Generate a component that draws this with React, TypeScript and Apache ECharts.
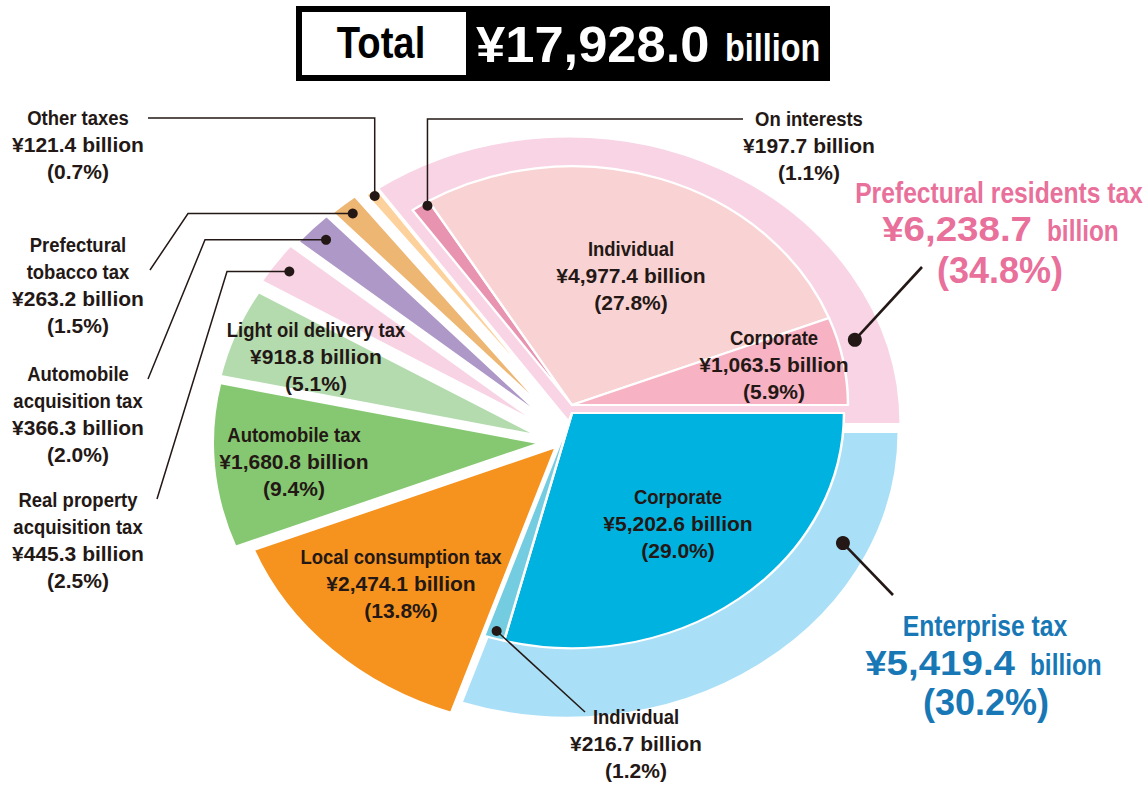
import React, { useEffect, useRef } from "react";
import * as echarts from "echarts";

// ---------------- data ----------------
const categories = [
  "Enterprise tax: Corporate",
  "Enterprise tax: Individual",
  "Local consumption tax",
  "Automobile tax",
  "Light oil delivery tax",
  "Real property acquisition tax",
  "Automobile acquisition tax",
  "Prefectural tobacco tax",
  "Other taxes",
  "Prefectural residents tax: On interests",
  "Prefectural residents tax: Individual",
  "Prefectural residents tax: Corporate",
];
const values = [5202.6, 216.7, 2474.1, 1680.8, 918.8, 445.3, 366.3, 263.2, 121.4, 197.7, 4977.4, 1063.5];
const shares = [29.0, 1.2, 13.8, 9.4, 5.1, 2.5, 2.0, 1.5, 0.7, 1.1, 27.8, 5.9];
const nameLines = [
  ["Corporate"],
  ["Individual"],
  ["Local consumption tax"],
  ["Automobile tax"],
  ["Light oil delivery tax"],
  ["Real property", "acquisition tax"],
  ["Automobile", "acquisition tax"],
  ["Prefectural", "tobacco tax"],
  ["Other taxes"],
  ["On interests"],
  ["Individual"],
  ["Corporate"],
];
const colors = [
  "#00B2DF", "#74CCE0", "#F6921E", "#86C872", "#B3DBAE", "#F8D3E4",
  "#AE98C7", "#EEB673", "#FDD19C", "#E894B0", "#F9D3D3", "#F7B2C3",
];
const groupNames = ["Enterprise tax", "Prefectural residents tax"];
const groupMembers = [[0, 1], [9, 10, 11]];
const groupValues = [5419.4, 6238.7];
const groupShares = [30.2, 34.8];
const groupColors = ["#AADFF8", "#F8D4E5"];
const groupTextColors = ["#1878B6", "#E8709B"];
const totalValue = 17928.0;

// ---------------- layout ----------------
const W = 1148;
const H = 785;
const S = 0.865; // vertical squash of the pie
const FONT = "'Liberation Sans', Arial, Helvetica, sans-serif";
const INK = "#231815";

type Layer = { cx: number; cy: number; r: number; bw: number };
const ringLayers: Layer[] = [
  { cx: 568, cy: 431.7, r: 331, bw: 3 },
  { cx: 568, cy: 424.3, r: 333, bw: 3 },
];
const innerLayers: Layer[] = [
  { cx: 572, cy: 413, r: 272, bw: 2.5 },
  { cx: 572, cy: 405, r: 276, bw: 2.5 },
];
const sliceLayers: Record<number, Layer> = {
  2: { cx: 557, cy: 446, r: 327, bw: 4 },
  3: { cx: 542, cy: 443, r: 330, bw: 4 },
  4: { cx: 542, cy: 437, r: 330, bw: 4 },
  5: { cx: 546, cy: 428, r: 332, bw: 4 },
  6: { cx: 553, cy: 425, r: 332, bw: 4 },
  7: { cx: 558, cy: 422.5, r: 332, bw: 4 },
  8: { cx: 568, cy: 422, r: 332, bw: 4 },
};

const sumAll = values.reduce((a, b) => a + b, 0);
const startDeg: number[] = [];
{
  let acc = 0;
  values.forEach((v) => {
    startDeg.push((acc / sumAll) * 360);
    acc += v;
  });
}
const spanDeg = (i: number) => (values[i] / sumAll) * 360;

function pt(L: Layer, deg: number, rr: number): [number, number] {
  const a = (deg * Math.PI) / 180;
  return [L.cx + rr * Math.cos(a), L.cy + S * rr * Math.sin(a)];
}

const money = (v: number) =>
  "¥" + v.toLocaleString("en-US", { minimumFractionDigits: 1, maximumFractionDigits: 1 }) + " billion";
const moneyNum = (v: number) =>
  "¥" + v.toLocaleString("en-US", { minimumFractionDigits: 1, maximumFractionDigits: 1 });
const pct = (p: number) => `(${p.toFixed(1)}%)`;

type Item = { value: number; color: string | null };

function pieSeries(id: string, L: Layer, items: Item[]) {
  return {
    type: "pie",
    id,
    silent: true,
    animation: false,
    center: [L.cx, L.cy / S],
    radius: [0, L.r],
    startAngle: 0,
    clockwise: true,
    avoidLabelOverlap: false,
    minAngle: 0,
    label: { show: false },
    labelLine: { show: false },
    emphasis: { disabled: true },
    data: items.map((it, k) => ({
      name: `${id}-${k}`,
      value: it.value,
      itemStyle: it.color
        ? { color: it.color, borderColor: "#ffffff", borderWidth: L.bw }
        : { color: "rgba(0,0,0,0)", borderColor: "rgba(0,0,0,0)", borderWidth: 0 },
    })),
  };
}

function ringItems(g: number): Item[] {
  const items: Item[] = [];
  let i = 0;
  while (i < values.length) {
    const gi = groupMembers.findIndex((m) => m.includes(i));
    if (gi >= 0) {
      const m = groupMembers[gi];
      items.push({ value: m.reduce((s, j) => s + values[j], 0), color: gi === g ? groupColors[g] : null });
      i = m[m.length - 1] + 1;
    } else {
      items.push({ value: values[i], color: null });
      i++;
    }
  }
  return items;
}

function buildPieOption() {
  const series: any[] = [];
  series.push(pieSeries("ring-res", ringLayers[1], ringItems(1)));
  series.push(pieSeries("ring-ent", ringLayers[0], ringItems(0)));
  [2, 3, 4, 5, 6, 7, 8].forEach((i) => {
    series.push(
      pieSeries(
        "slice-" + i,
        sliceLayers[i],
        values.map((v, j) => ({ value: v, color: j === i ? colors[i] : null }))
      )
    );
  });
  [1, 0].forEach((g) => {
    series.push(
      pieSeries(
        "inner-" + g,
        innerLayers[g],
        values.map((v, j) => ({ value: v, color: groupMembers[g].includes(j) ? colors[j] : null }))
      )
    );
  });
  return { animation: false, series };
}

// ---------------- overlay (texts, leaders) ----------------
function txt(
  x: number,
  y: number,
  text: string,
  size: number,
  opt: { sx?: number; color?: string; align?: string } = {}
) {
  return {
    type: "text",
    x,
    y,
    scaleX: opt.sx ?? 1,
    silent: true,
    z: 10,
    style: {
      text,
      fontSize: size,
      fontWeight: "bold",
      fontFamily: FONT,
      fill: opt.color ?? INK,
      textAlign: opt.align ?? "center",
      textVerticalAlign: "middle",
      align: opt.align ?? "center",
      verticalAlign: "middle",
    },
  };
}

const labelPos: Record<number, [number, number]> = {
  0: [678, 497],
  1: [636, 717],
  2: [401, 557],
  3: [294, 435],
  4: [316, 330],
  5: [78, 500],
  6: [78, 374],
  7: [78, 245],
  8: [78, 118],
  9: [809, 119],
  10: [631, 249],
  11: [774, 338],
};

function labelBlock(i: number) {
  const [x, y0] = labelPos[i];
  const lh = 26.7;
  const els: any[] = [];
  const lines = [...nameLines[i]];
  lines.forEach((l, k) => els.push(txt(x, y0 + k * lh, l, 21, { sx: 0.88 })));
  els.push(txt(x, y0 + lines.length * lh, money(values[i]), 21));
  els.push(txt(x, y0 + (lines.length + 1) * lh, pct(shares[i]), 21));
  return els;
}

function layerOf(i: number): Layer {
  const g = groupMembers.findIndex((m) => m.includes(i));
  return g >= 0 ? innerLayers[g] : sliceLayers[i];
}

const dotSpec: Record<number, { frac: number; rr: number }> = {
  8: { frac: 0.5, rr: 325 },
  7: { frac: 0.5, rr: 317 },
  6: { frac: 0.5, rr: 312 },
  5: { frac: 0.5, rr: 314 },
  9: { frac: 0.8, rr: 272 },
  1: { frac: 0.5, rr: 263 },
};

function leaderRoute(i: number, p: [number, number]): number[][] {
  switch (i) {
    case 8: return [p, [p[0], 118], [148, 118]];
    case 7: return [p, [188, p[1]], [150, 270]];
    case 6: return [p, [205, p[1]], [148, 379]];
    case 5: return [p, [227, p[1]], [157, 499]];
    case 9: return [p, [p[0], 119], [743, 119]];
    default: return [p, [585, 712]];
  }
}

function buildOverlayOption() {
  const els: any[] = [];
  // title box
  els.push({ type: "rect", shape: { x: 296, y: 6, width: 534, height: 75 }, style: { fill: "#000" } });
  els.push({ type: "rect", shape: { x: 302, y: 12, width: 164, height: 63 }, style: { fill: "#fff" } });
  els.push(txt(381, 42.5, "Total", 45, { sx: 0.85, color: "#000" }));
  els.push(txt(476, 44.5, moneyNum(totalValue), 50, { sx: 1.05, color: "#fff", align: "left" }));
  els.push(txt(725, 48, "billion", 39, { sx: 0.83, color: "#fff", align: "left" }));

  // leaders & dots for small slices
  Object.keys(dotSpec).forEach((k) => {
    const i = Number(k);
    const d = dotSpec[i];
    const p = pt(layerOf(i), startDeg[i] + d.frac * spanDeg(i), d.rr);
    els.push({
      type: "polyline",
      shape: { points: leaderRoute(i, p) },
      style: { stroke: INK, lineWidth: 1.5, fill: null },
      z: 9,
    });
    els.push({ type: "circle", shape: { cx: p[0], cy: p[1], r: 5 }, style: { fill: INK }, z: 9 });
  });

  // group leaders
  const groupDot = [
    { deg: 25.1, rr: 303.6, end: [893, 595] },
    { deg: 341.2, rr: 303, end: [922, 267] },
  ];
  groupDot.forEach((gd, g) => {
    const p = pt(ringLayers[g], gd.deg, gd.rr);
    els.push({
      type: "line",
      shape: { x1: p[0], y1: p[1], x2: gd.end[0], y2: gd.end[1] },
      style: { stroke: INK, lineWidth: 2.6 },
      z: 9,
    });
    els.push({ type: "circle", shape: { cx: p[0], cy: p[1], r: 7 }, style: { fill: INK }, z: 9 });
  });

  // slice labels
  for (let i = 0; i < values.length; i++) els.push(...labelBlock(i));

  // group labels
  const gl = [
    { cx: 985, y1: 626, numRight: 1015, billLeft: 1030, y2: 663, y3: 702 },
    { cx: 999, y1: 193, numRight: 1032, billLeft: 1047, y2: 229, y3: 270 },
  ];
  gl.forEach((p, g) => {
    const c = groupTextColors[g];
    els.push(txt(p.cx, p.y1, groupNames[g], 29, { sx: 0.85, color: c }));
    els.push(txt(p.numRight, p.y2, moneyNum(groupValues[g]), 35, { sx: 1.1, color: c, align: "right" }));
    els.push(txt(p.billLeft, p.y2 + 2.5, "billion", 29, { sx: 0.84, color: c, align: "left" }));
    els.push(txt(p.cx + 1, p.y3, pct(groupShares[g]), 36, { color: c }));
  });

  return { animation: false, graphic: { elements: els } };
}

export default function App() {
  const pieRef = useRef<HTMLDivElement>(null);
  const ovRef = useRef<HTMLDivElement>(null);
  useEffect(() => {
    const pie = echarts.init(pieRef.current as HTMLDivElement, undefined, { renderer: "svg" });
    pie.setOption(buildPieOption() as any);
    const ov = echarts.init(ovRef.current as HTMLDivElement, undefined, { renderer: "svg" });
    ov.setOption(buildOverlayOption() as any);
    return () => {
      pie.dispose();
      ov.dispose();
    };
  }, []);
  return (
    <div
      style={{
        position: "fixed",
        left: 0,
        top: 0,
        width: W,
        height: H,
        background: "#fff",
        overflow: "hidden",
      }}
    >
      <div
        ref={pieRef}
        style={{
          position: "absolute",
          left: 0,
          top: 0,
          width: W,
          height: 910,
          transform: `scaleY(${S})`,
          transformOrigin: "0 0",
        }}
      />
      <div ref={ovRef} style={{ position: "absolute", left: 0, top: 0, width: W, height: H }} />
    </div>
  );
}
